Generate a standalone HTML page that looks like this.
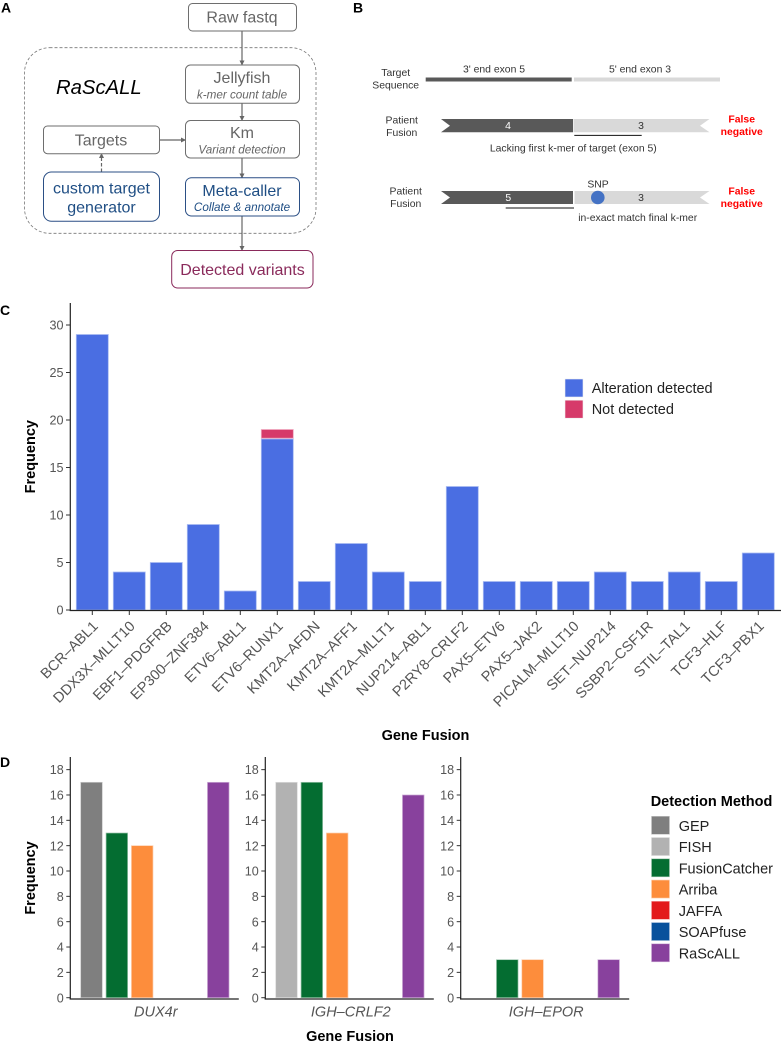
<!DOCTYPE html>
<html lang="en">
<head>
<meta charset="utf-8">
<title>RaScALL figure</title>
<style>
html,body{margin:0;padding:0;background:#fff;}
svg{display:block;font-family:"Liberation Sans",Arial,sans-serif;filter:blur(0.3px);}
.box{fill:#fff;stroke:#6e6e6e;stroke-width:1;}
.t16{font-size:16px;fill:#666;text-anchor:middle;}
.t12{font-size:11.7px;fill:#666;font-style:italic;text-anchor:middle;}
.blue{fill:#1f4e84;}
.b{font-size:10.4px;fill:#333;text-anchor:middle;}
.fn{font-size:10.4px;fill:#ff0000;font-weight:bold;text-anchor:middle;}
.plabel{font-size:14px;font-weight:bold;fill:#000;}
.title{font-size:14.5px;font-weight:bold;fill:#000;}
.tick{font-size:12.6px;fill:#555;}
.xtick{font-size:14.5px;fill:#555;}
.xtick-it{font-size:14.5px;fill:#555;font-style:italic;}
.leg{font-size:14.5px;fill:#222;}
</style>
</head>
<body>
<svg id="fig" xmlns="http://www.w3.org/2000/svg" width="781" height="1043" viewBox="0 0 781 1043">
<defs>
<marker id="ah" markerWidth="5" markerHeight="5" refX="4" refY="2.5" orient="auto" markerUnits="userSpaceOnUse"><path d="M0,0 L5,2.5 L0,5 z" fill="#666"/></marker>
</defs>

<text class="plabel" x="1" y="12.5">A</text>
<text class="plabel" x="353" y="12.5">B</text>
<text class="plabel" x="0" y="315">C</text>
<text class="plabel" x="0" y="767">D</text>

<!-- Panel A -->
<g>
<rect x="24.5" y="47.7" width="291.5" height="185.6" rx="25" fill="none" stroke="#777" stroke-width="0.8" stroke-dasharray="3 2"/>
<text x="56" y="94" font-size="20.3" font-style="italic" fill="#000">RaScALL</text>

<g stroke="#666" stroke-width="1.2" fill="none">
<line x1="242" y1="31" x2="242" y2="64.5" marker-end="url(#ah)"/>
<line x1="242" y1="103" x2="242" y2="120" marker-end="url(#ah)"/>
<line x1="242" y1="158" x2="242" y2="177.5" marker-end="url(#ah)"/>
<line x1="242" y1="216" x2="242" y2="250" marker-end="url(#ah)"/>
<line x1="160" y1="140" x2="185" y2="140" marker-end="url(#ah)"/>
<line x1="101.5" y1="172" x2="101.5" y2="154" stroke-dasharray="3.5 2" marker-end="url(#ah)"/>
</g>

<g>
<rect class="box" x="188.5" y="3.5" width="108" height="27.5" rx="4"/>
<text class="t16" x="242" y="22.7">Raw fastq</text>
</g>
<g>
<rect class="box" x="185.5" y="65" width="114" height="38.3" rx="5"/>
<text class="t16" x="242" y="83">Jellyfish</text>
<text class="t12" x="242" y="98.5">k-mer count table</text>
</g>
<g>
<rect class="box" x="185.5" y="120.5" width="114" height="37.5" rx="5"/>
<text class="t16" x="242" y="138">Km</text>
<text class="t12" x="242" y="153.5">Variant detection</text>
</g>
<g>
<rect x="185.5" y="177.7" width="114" height="38.3" rx="6" fill="#fff" stroke="#2b4f85" stroke-width="1"/>
<text class="t16 blue" x="242" y="196">Meta-caller</text>
<text class="t12 blue" x="242" y="211">Collate &amp; annotate</text>
</g>
<g>
<rect class="box" x="43.5" y="126" width="116" height="27.7" rx="4"/>
<text class="t16" x="101" y="145.7">Targets</text>
</g>
<g>
<rect x="43.5" y="172" width="116" height="49.3" rx="8" fill="#fff" stroke="#2b4f85" stroke-width="1"/>
<text class="t16 blue" x="101.5" y="193.5">custom target</text>
<text class="t16 blue" x="101.5" y="212.5">generator</text>
</g>
<g>
<rect x="171.7" y="250.5" width="141.3" height="37.5" rx="6" fill="#fff" stroke="#8a2a5b" stroke-width="1"/>
<text class="t16" style="fill:#8a2a5b" x="242.5" y="275">Detected variants</text>
</g>
</g>

<!-- Panel B -->
<g>
<text class="b" x="395.7" y="76">Target</text>
<text class="b" x="395.7" y="88.7">Sequence</text>
<text class="b" x="494" y="72.7">3' end exon 5</text>
<text class="b" x="640" y="72.7">5' end exon 3</text>
<rect x="425.7" y="77.5" width="146" height="4" fill="#595959"/>
<rect x="574" y="77.5" width="146" height="4" fill="#d9d9d9"/>

<text class="b" x="401.7" y="123.3">Patient</text>
<text class="b" x="401.7" y="136">Fusion</text>
<polygon points="441,119 573,119 573,132.3 441,132.3 450,125.7" fill="#595959"/>
<polygon points="573.5,119 709.5,119 700,125.7 709.5,132.3 573.5,132.3" fill="#d9d9d9"/>
<text class="b" style="fill:#fff" x="508" y="129">4</text>
<text class="b" x="641" y="129">3</text>
<line x1="574.3" y1="135.4" x2="641.7" y2="135.4" stroke="#111" stroke-width="1"/>
<text class="b" x="573.3" y="151.7">Lacking first k-mer of target (exon 5)</text>
<text class="fn" x="741.7" y="122.5">False</text>
<text class="fn" x="741.7" y="135">negative</text>

<text class="b" x="405.7" y="194.3">Patient</text>
<text class="b" x="405.7" y="206.8">Fusion</text>
<polygon points="441,191 573,191 573,204 441,204 450,197.5" fill="#595959"/>
<polygon points="574.5,191 709.5,191 700,197.5 709.5,204 574.5,204" fill="#d9d9d9"/>
<text class="b" style="fill:#fff" x="508.3" y="201">5</text>
<text class="b" x="641" y="201">3</text>
<circle cx="597.8" cy="197.5" r="6.8" fill="#4472c4"/>
<text class="b" x="598" y="187.7">SNP</text>
<line x1="505.7" y1="208" x2="574" y2="208" stroke="#111" stroke-width="1"/>
<text class="b" x="637.7" y="221">in-exact match final k-mer</text>
<text class="fn" x="741.7" y="194.5">False</text>
<text class="fn" x="741.7" y="207">negative</text>
</g>

<g id="chartC"></g>
<g id="chartD"></g>
</svg>

<script>
// Panel C data
const fusionCategories = ['BCR–ABL1','DDX3X–MLLT10','EBF1–PDGFRB','EP300–ZNF384','ETV6–ABL1','ETV6–RUNX1','KMT2A–AFDN','KMT2A–AFF1','KMT2A–MLLT1','NUP214–ABL1','P2RY8–CRLF2','PAX5–ETV6','PAX5–JAK2','PICALM–MLLT10','SET–NUP214','SSBP2–CSF1R','STIL–TAL1','TCF3–HLF','TCF3–PBX1'];
const alterationDetected = [29,4,5,9,2,18,3,7,4,3,13,3,3,3,4,3,4,3,6];
const notDetected = [0,0,0,0,0,1,0,0,0,0,0,0,0,0,0,0,0,0,0];
const fusionTicks = [0,5,10,15,20,25,30];
const fusionLegend = ['Alteration detected','Not detected'];

// Panel D data
const methodNames = ['GEP','FISH','FusionCatcher','Arriba','JAFFA','SOAPfuse','RaScALL'];
const dodgeGroups = ['array','array','FusionCatcher','Arriba','JAFFA','SOAPfuse','RaScALL'];
const dux4rValues = [17,0,13,12,0,0,17];
const crlf2Values = [0,17,17,13,0,0,16];
const eporValues = [0,0,3,3,0,0,3];
const panelNames = ['DUX4r','IGH–CRLF2','IGH–EPOR'];
const methodTicks = [0,2,4,6,8,10,12,14,16,18];

const NS = 'http://www.w3.org/2000/svg';
function svgEl(parent, tag, attrs, text){
  const el = document.createElementNS(NS, tag);
  for (const k in attrs) el.setAttribute(k, attrs[k]);
  if (text !== undefined) el.textContent = text;
  parent.appendChild(el);
  return el;
}
function slug(s){ return s.toLowerCase().replace(/[^a-z0-9]+/g,'-'); }

/* ---------- Panel C ---------- */
(function(){
  const g = document.getElementById('chartC');
  const fillA = '#4a6ee2', fillN = '#d63a6a';
  const yC = v => 610 - v * 9.5;
  const xC = i => 92.3 + i * 37;
  const barW = 32;

  fusionCategories.forEach((cat, i) => {
    const base = alterationDetected[i], extra = notDetected[i];
    const r = svgEl(g, 'rect', {x:xC(i)-barW/2, y:yC(base), width:barW, height:yC(0)-yC(base), fill:fillA, stroke:'#a9bbf2', 'stroke-width':0.8});
    
    
    if (extra > 0) {
      const s = svgEl(g, 'rect', {x:xC(i)-barW/2, y:yC(base+extra), width:barW, height:yC(base)-yC(base+extra)-0.8, fill:fillN, stroke:'#f0a9c0', 'stroke-width':0.8});
      
      
    }
    const t = svgEl(g, 'line', {x1:xC(i), x2:xC(i), y1:611, y2:615, stroke:'#333', 'stroke-width':1});
    
    
    const lx = xC(i) + 6.5, ly = 627;
    const l = svgEl(g, 'text', {class:'xtick', x:lx, y:ly, 'text-anchor':'end', transform:'rotate(-45 '+lx+' '+ly+')'}, cat);
    
    
  });

  fusionTicks.forEach(v => {
    const t = svgEl(g, 'line', {x1:66, x2:70, y1:yC(v), y2:yC(v), stroke:'#333', 'stroke-width':1});
    
    
    const l = svgEl(g, 'text', {class:'tick', x:63.5, y:yC(v)+4.6, 'text-anchor':'end'}, String(v));
    
    
  });

  const ya = svgEl(g, 'line', {x1:70.3, x2:70.3, y1:303, y2:611, stroke:'#222', 'stroke-width':1.2});
  
  
  const xa = svgEl(g, 'line', {x1:69.7, x2:781, y1:610.5, y2:610.5, stroke:'#222', 'stroke-width':1.2});
  
  

  const yt = svgEl(g, 'text', {class:'title', x:35, y:456.7, 'text-anchor':'middle', transform:'rotate(-90 35 456.7)'}, 'Frequency');
  
  
  const xt = svgEl(g, 'text', {class:'title', x:425.5, y:740, 'text-anchor':'middle'}, 'Gene Fusion');
  
  

  [fillA, fillN].forEach((c, i) => {
    const y = 379 + i * 21.2;
    const s = svgEl(g, 'rect', {x:565, y:y, width:18, height:18, fill:c, stroke:'#eee', 'stroke-width':0.6});
    
    
    const l = svgEl(g, 'text', {class:'leg', x:591.7, y:y+14}, fusionLegend[i]);
    
    
  });
})();

/* ---------- Panel D ---------- */
(function(){
  const g = document.getElementById('chartD');
  const colors = ['#7f7f7f','#b2b2b2','#046d31','#fd8d3c','#e31a1c','#08519c','#88419d'];
  const edges  = ['#c8c8c8','#dcdcdc','#a0c8b0','#fdd0b0','#f4a8a8','#a8c0dc','#cfb0d8'];
  const panelValues = [dux4rValues, crlf2Values, eporValues];
  const axisLeft = [70.3, 265.3, 460.7];
  const groups = dodgeGroups.filter((d, i) => dodgeGroups.indexOf(d) === i);
  const yD = v => 997.7 - v * 12.67;
  const xD = (panel, method) => axisLeft[panel] + 21.2 + groups.indexOf(dodgeGroups[method]) * 25.35;
  const barW = 21.6;

  panelValues.forEach((vals, p) => {
    const pn = slug(panelNames[p]);
    vals.forEach((v, m) => {
      if (v <= 0) return;
      const r = svgEl(g, 'rect', {x:xD(p,m)-barW/2, y:yD(v), width:barW, height:yD(0)-yD(v), fill:colors[m], stroke:edges[m], 'stroke-width':0.7});
      
      
    });
    methodTicks.forEach(v => {
      const t = svgEl(g, 'line', {x1:axisLeft[p]-4, x2:axisLeft[p], y1:yD(v), y2:yD(v), stroke:'#333', 'stroke-width':1});
      
      
      const l = svgEl(g, 'text', {class:'tick', x:axisLeft[p]-6.5, y:yD(v)+4.6, 'text-anchor':'end'}, String(v));
      
      
    });
    const ya = svgEl(g, 'line', {x1:axisLeft[p], x2:axisLeft[p], y1:757, y2:999.5, stroke:'#222', 'stroke-width':1.2});
    
    
    const xa = svgEl(g, 'line', {x1:axisLeft[p]-0.6, x2:axisLeft[p]+168.5, y1:999, y2:999, stroke:'#222', 'stroke-width':1.2});
    
    
    const lab = svgEl(g, 'text', {class:'xtick-it', x:axisLeft[p]+85.5, y:1016.5, 'text-anchor':'middle'}, panelNames[p]);
    
    
  });

  const yt = svgEl(g, 'text', {class:'title', x:35, y:878, 'text-anchor':'middle', transform:'rotate(-90 35 878)'}, 'Frequency');
  
  
  const xt = svgEl(g, 'text', {class:'title', x:350, y:1041, 'text-anchor':'middle'}, 'Gene Fusion');
  
  
  const lt = svgEl(g, 'text', {class:'title', x:650.7, y:806}, 'Detection Method');
  
  

  methodNames.forEach((name, i) => {
    const y = 816.3 + i * 21.25;
    const s = svgEl(g, 'rect', {x:651.5, y:y, width:18, height:18, fill:colors[i], stroke:edges[i], 'stroke-width':0.6});
    
    
    const l = svgEl(g, 'text', {class:'leg', x:678.7, y:y+14.5}, name);
    
    
  });
})();
</script>
</body>
</html>
